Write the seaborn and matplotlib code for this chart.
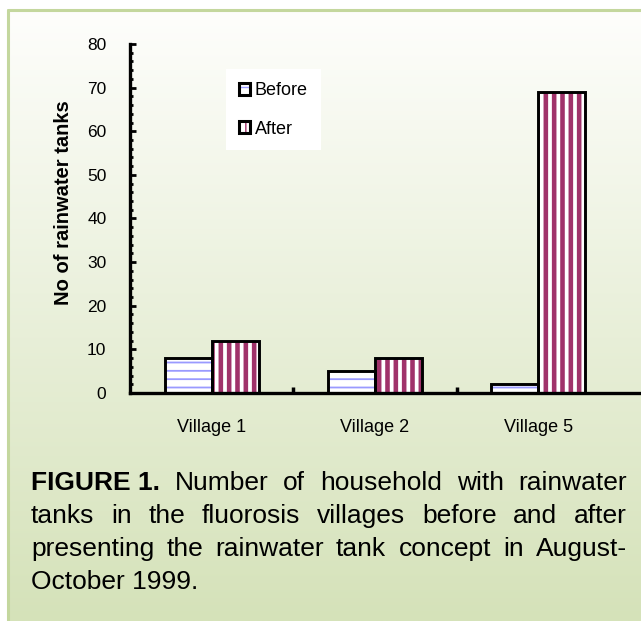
import numpy as np
import pandas as pd
import matplotlib
matplotlib.use('Agg')
import matplotlib.pyplot as plt
import seaborn as sns
from matplotlib.patches import Patch, Rectangle
from matplotlib.lines import Line2D
from matplotlib.legend_handler import HandlerTuple
from matplotlib.ticker import MultipleLocator
from matplotlib.colors import to_rgb

# data
villages = ['Village 1', 'Village 2', 'Village 5']
before = [8, 5, 2]
after = [12, 8, 69]
series_names = ['Before', 'After']
y_ticks = [0, 10, 20, 30, 40, 50, 60, 70, 80]

caption_lines = [
    ['FIGURE 1.', 'Number', 'of', 'household', 'with', 'rainwater'],
    ['tanks', 'in', 'the', 'fluorosis', 'villages', 'before', 'and', 'after'],
    ['presenting', 'the', 'rainwater', 'tank', 'concept', 'in', 'August-'],
    ['October 1999.'],
]

df = pd.DataFrame({
    'village': villages * 2,
    'count': before + after,
    'when': [series_names[0]] * 3 + [series_names[1]] * 3,
})

sns.set_style('white')
plt.rcParams['font.family'] = ['Liberation Sans', 'DejaVu Sans']
plt.rcParams['text.color'] = 'black'
plt.rcParams['axes.labelcolor'] = 'black'
plt.rcParams['xtick.color'] = 'black'
plt.rcParams['ytick.color'] = 'black'

W, H = 641, 621
fig = plt.figure(figsize=(W / 100, H / 100), dpi=100)
fig.patch.set_facecolor('white')

# gradient panel behind everything
bg = fig.add_axes([8 / W, 0, 1 - 8 / W, 1 - 10 / H], zorder=-10)
top = np.array(to_rgb('#fefefc'))
bot = np.array(to_rgb('#d5e2b9'))
t = np.linspace(0, 1, 256)[:, None]
grad = top[None, :] * (1 - t) + bot[None, :] * t
bg.imshow(grad[:, None, :], aspect='auto', extent=[0, 1, 0, 1])
bg.set_axis_off()

border = '#c4d79e'
fig.add_artist(Line2D([8 / W, 1], [1 - 10 / H, 1 - 10 / H], color=border, lw=2.2, transform=fig.transFigure))
fig.add_artist(Line2D([8 / W, 8 / W], [0, 1 - 10 / H], color=border, lw=2.2, transform=fig.transFigure))

ax = fig.add_axes([130 / W, (H - 393) / H, (W - 130) / W, 349 / H])
ax.patch.set_alpha(0)

sns.barplot(data=df, x='village', y='count', hue='when', order=villages,
            hue_order=series_names, palette=['white', 'white'], width=0.575,
            legend=False, ax=ax, saturation=1)

hatch_styles = {
    'Before': dict(hatch='--', color='#9a9aff', lw=1.3),
    'After': dict(hatch='||', color='#a0326a', lw=3.3),
}

for cont, name in zip(ax.containers, series_names):
    st = hatch_styles[name]
    for bar in cont:
        bar.set_facecolor('white')
        bar.set_hatch(st['hatch'])
        bar.set_edgecolor(st['color'])
        bar.set_linewidth(0)
        if hasattr(bar, 'set_hatch_linewidth'):
            bar.set_hatch_linewidth(st['lw'])
        ax.add_patch(Rectangle(bar.get_xy(), bar.get_width(), bar.get_height(),
                               fill=False, edgecolor='black', lw=2.1, zorder=3))

ax.set_xlim(-0.5, 2.63)
ax.set_ylim(0, 80)
ax.set_yticks(y_ticks)
ax.yaxis.set_minor_locator(MultipleLocator(2))
ax.set_xticks([0.5, 1.5], minor=True)

for s in ['top', 'right']:
    ax.spines[s].set_visible(False)
for s in ['left', 'bottom']:
    ax.spines[s].set_linewidth(2.4)
    ax.spines[s].set_color('black')

ax.tick_params(axis='y', which='major', direction='in', length=4, width=2, labelsize=12.5, pad=17, left=True)
ax.tick_params(axis='y', which='minor', direction='in', length=2.5, width=2, left=True)
ax.tick_params(axis='x', which='major', length=0, labelsize=13, pad=19)
ax.tick_params(axis='x', which='minor', direction='in', length=4, width=2.5, bottom=True)

ax.set_xlabel('')
ax.set_ylabel('No of rainwater tanks', fontsize=14.5, fontweight='bold')
ax.yaxis.set_label_coords(-0.112, 0.545)

# legend with hatch colour separate from black outline
handles = []
for name in series_names:
    st = hatch_styles[name]
    handles.append((Patch(facecolor='white', edgecolor=st['color'], hatch=st['hatch'], lw=0),
                    Patch(fill=False, edgecolor='black', lw=2.2)))
leg = ax.legend(handles, series_names, handler_map={tuple: HandlerTuple(ndivide=1)},
                loc='upper left', bbox_to_anchor=(0.188, 0.927), fontsize=13,
                frameon=True, facecolor='white', edgecolor='none', framealpha=1,
                handlelength=0.65, handleheight=0.65, handletextpad=0.25,
                labelspacing=1.2, borderpad=0.7, borderaxespad=0, fancybox=False)

# justified caption
renderer = fig.canvas.get_renderer()
x0, x1 = 31, 627
baselines = [490, 523, 556, 589]
fs = 19
for words, yb in zip(caption_lines, baselines):
    txts = []
    for i, w in enumerate(words):
        bold = w.startswith('FIGURE')
        txts.append(fig.text(0, 1 - yb / H, w, fontsize=fs, va='baseline', ha='left',
                             fontweight='bold' if bold else 'normal'))
    if len(words) == 1:
        txts[0].set_x(x0 / W)
        continue
    widths = [tx.get_window_extent(renderer).width for tx in txts]
    gap = (x1 - x0 - sum(widths)) / (len(words) - 1)
    x = x0
    for tx, wd in zip(txts, widths):
        tx.set_x(x / W)
        x += wd + gap

fig.savefig('out.png', dpi=100)
